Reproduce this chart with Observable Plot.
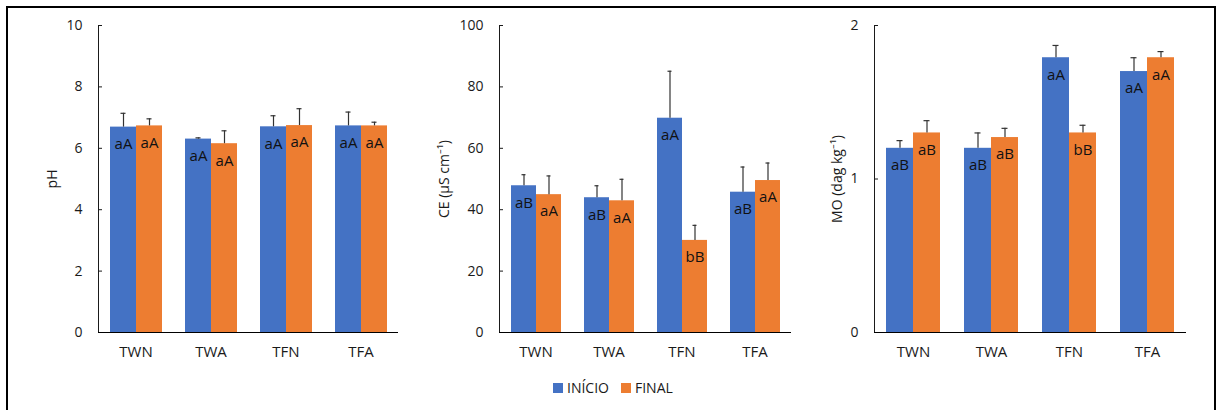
<!DOCTYPE html>
<html>
<head>
<meta charset="utf-8">
<script src="https://cdn.jsdelivr.net/npm/d3@7"></script>
<script src="https://cdn.jsdelivr.net/npm/@observablehq/plot@0.6"></script>
<style>
  body { margin: 0; background: #fff; font-family: "Open Sans", sans-serif; }
  #chart { position: relative; width: 1216px; height: 410px; overflow: hidden; background: #fff; }
  #border { position: absolute; left: 6px; top: 6px; width: 1210px; height: 420px; border: 2px solid #000; box-sizing: border-box; }
  .panel { position: absolute; top: 0; }
  #legend { position: absolute; left: 553px; top: 371px; }
  #legend .lg-swatch > svg { margin-right: 4px; }
  #legend .lg-swatch { margin-right: 12px; }
</style>
</head>
<body>
<div id="chart">
  <div id="border"></div>
  <div class="panel" id="p1" style="left:0px"></div>
  <div class="panel" id="p2" style="left:400px"></div>
  <div class="panel" id="p3" style="left:800px"></div>
  <div id="legend"></div>
</div>
<script>
// Treatments and sampling times
const categories = ["TWN", "TWA", "TFN", "TFA"];
const series = ["INÍCIO", "FINAL"];
const colors = ["#4472C4", "#ED7D31"];

// pH
const phInicio = [6.69, 6.30, 6.70, 6.73];
const phFinal = [6.73, 6.15, 6.74, 6.73];
const phInicioSd = [0.45, 0.04, 0.36, 0.45];
const phFinalSd = [0.23, 0.42, 0.55, 0.12];
const phInicioLetters = ["aA", "aA", "aA", "aA"];
const phFinalLetters = ["aA", "aA", "aA", "aA"];
const phTicks = [0, 2, 4, 6, 8, 10];

// Electrical conductivity (µS cm-1)
const ceInicio = [47.8, 43.9, 69.8, 45.7];
const ceFinal = [44.9, 42.9, 30.0, 49.5];
const ceInicioSd = [3.6, 3.9, 15.3, 8.2];
const ceFinalSd = [6.1, 7.0, 4.9, 5.7];
const ceInicioLetters = ["aB", "aB", "aA", "aB"];
const ceFinalLetters = ["aA", "aA", "bB", "aA"];
const ceTicks = [0, 20, 40, 60, 80, 100];

// Organic matter (dag kg-1)
const moInicio = [1.20, 1.20, 1.79, 1.70];
const moFinal = [1.30, 1.27, 1.30, 1.79];
const moInicioSd = [0.05, 0.10, 0.08, 0.09];
const moFinalSd = [0.08, 0.06, 0.05, 0.04];
const moInicioLetters = ["aB", "aB", "aA", "aA"];
const moFinalLetters = ["aB", "aB", "bB", "aA"];
const moTicks = [0, 1, 2];

function rowsFor(inicio, final, inicioSd, finalSd, inicioLetters, finalLetters) {
  return categories.flatMap((cat, i) => [
    {cat, series: series[0], value: inicio[i], sd: inicioSd[i], letter: inicioLetters[i]},
    {cat, series: series[1], value: final[i], sd: finalSd[i], letter: finalLetters[i]}
  ]);
}

function panel({rows, ticks, label, width, marginLeft, marginRight, labelDx}) {
  return Plot.plot({
    width,
    height: 370,
    marginTop: 25,
    marginBottom: 38,
    marginLeft,
    marginRight,
    style: {fontFamily: "'Open Sans', sans-serif", fontSize: "14px", color: "#1a1a1a", background: "transparent", overflow: "visible"},
    fx: {domain: categories, padding: 0, label: null},
    x: {domain: series, paddingInner: 0, paddingOuter: 0.43, axis: null},
    y: {
      domain: [ticks[0], ticks[ticks.length - 1]],
      ticks, tickSize: -4, tickPadding: 20, tickFormat: d => `${d}`,
      line: true, label: null
    },
    color: {domain: series, range: colors},
    marks: [
      Plot.barY(rows, {fx: "cat", x: "series", y: "value", fill: "series"}),
      Plot.ruleX(rows, {fx: "cat", x: "series", y1: "value", y2: d => d.value + d.sd, stroke: "#333", strokeWidth: 1.2}),
      Plot.tickY(rows, {fx: "cat", x: "series", y: d => d.value + d.sd, stroke: "#333", strokeWidth: 1.2, insetLeft: 10.5, insetRight: 10.5}),
      Plot.text(rows, {fx: "cat", x: "series", y: "value", text: "letter", dy: 17, fontSize: 15, fill: "#111"}),
      Plot.ruleY([0], {stroke: "#000", strokeWidth: 1.2}),
      Plot.axisFx({anchor: "bottom", tickSize: 0, tickPadding: 14, label: null, fontSize: 15}),
      Plot.text([label], {fx: () => categories[0], frameAnchor: "left", textAnchor: "middle", rotate: -90, dx: labelDx, fontSize: 14, fill: "#1a1a1a"})
    ]
  });
}

document.getElementById("p1").append(panel({
  rows: rowsFor(phInicio, phFinal, phInicioSd, phFinalSd, phInicioLetters, phFinalLetters),
  ticks: phTicks, label: "pH", width: 405, marginLeft: 96, marginRight: 6, labelDx: -46
}));
document.getElementById("p2").append(panel({
  rows: rowsFor(ceInicio, ceFinal, ceInicioSd, ceFinalSd, ceInicioLetters, ceFinalLetters),
  ticks: ceTicks, label: "CE (µS cm⁻¹)", width: 397, marginLeft: 97, marginRight: 5, labelDx: -55
}));
document.getElementById("p3").append(panel({
  rows: rowsFor(moInicio, moFinal, moInicioSd, moFinalSd, moInicioLetters, moFinalLetters),
  ticks: moTicks, label: "MO (dag kg⁻¹)", width: 392, marginLeft: 74, marginRight: 6, labelDx: -37
}));

document.getElementById("legend").append(Plot.legend({
  color: {domain: series, range: colors},
  swatchSize: 10,
  className: "lg",
  style: {fontFamily: "'Open Sans', sans-serif", fontSize: "14px", color: "#1a1a1a"}
}));
</script>
</body>
</html>
